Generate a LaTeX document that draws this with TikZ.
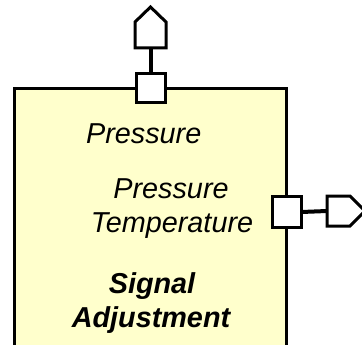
\documentclass[tikz,border=0pt]{standalone}
\usepackage{fontspec}
\setmainfont{Liberation Sans}
\definecolor{boxfill}{HTML}{FFFFCC}
\tikzset{
  blk/.style={draw=black, line width=3pt, fill=boxfill},
  port/.style={draw=black, line width=3pt, fill=white, minimum width=29pt, minimum height=29pt, inner sep=0pt, outer sep=0pt},
  stem/.style={draw=black, line width=4pt},
  pent/.style={draw=black, line width=3pt, fill=white, line join=miter},
  lbl/.style={anchor=base, inner sep=0pt, font=\fontsize{28.8}{32}\selectfont\itshape},
  blbl/.style={anchor=base, inner sep=0pt, font=\fontsize{28.8}{32}\selectfont\bfseries\itshape}
}
\begin{document}
\begin{tikzpicture}[x=1pt,y=-1pt]
\useasboundingbox (0,0) rectangle (362,345);
% main block (continues below the page)
\path[blk] (14.5,89) rectangle (286.5,360);
% ports
\node[port] (ptop) at (150.5,88.5) {};
\node[port, minimum height=31pt] (pright) at (287,212) {};
% pentagons
\coordinate (ctop) at (150.5,48);
\path[pent] (135,48) -- (135,22) -- (150.5,7) -- (166,22) -- (166,48) -- cycle;
\coordinate (cright) at (327,211);
\path[pent] (327,196) -- (350,196) -- (365,211) -- (350,226) -- (327,226) -- cycle;
% stems
\draw[stem] (ptop.north) -- (ctop);
\draw[stem] (pright.east) -- (cright);
% labels
\node[lbl] (t1) at (143.7,143) {Pressure};
\node[lbl] (t2) at (171,198) {Pressure};
\node[lbl] (t3) at (172,232) {Temperature};
\node[blbl] (t4) at (152,293) {Signal};
\node[blbl] (t5) at (151,327) {Adjustment};
\end{tikzpicture}
\end{document}
